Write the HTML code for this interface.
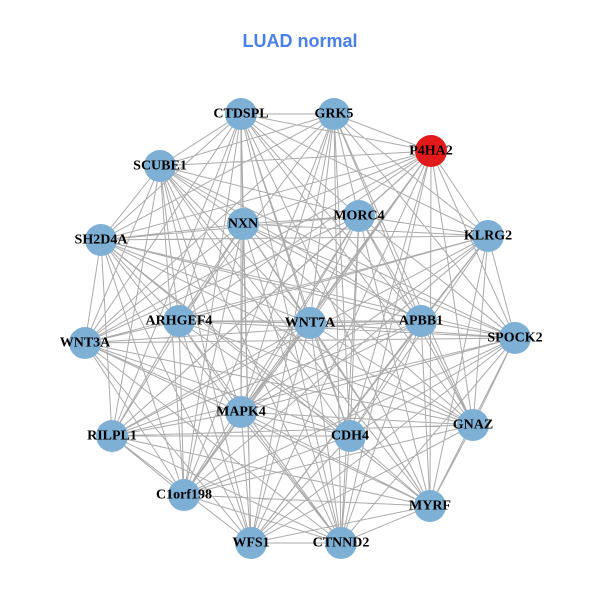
<!DOCTYPE html>
<html><head><meta charset="utf-8"><style>
html,body{margin:0;padding:0;background:#fff;width:600px;height:600px;overflow:hidden}
svg{display:block}
.l{font-family:"Liberation Serif",serif;font-weight:bold;font-size:14px;fill:#000;text-anchor:middle;dominant-baseline:central}
</style></head><body>
<svg id="s" width="600" height="600" viewBox="0 0 600 600">
<rect width="600" height="600" fill="#fff"/>
<text x="300" y="41" text-anchor="middle" dominant-baseline="central" font-family="Liberation Sans,sans-serif" font-weight="bold" font-size="18" fill="#4a7ee8">LUAD normal</text>
<g id="e" stroke="#aaaaaa" stroke-width="1" fill="none"></g>
<g id="n"></g>
<g>
<text class="l" x="241" y="114">CTDSPL</text>
<text class="l" x="334" y="114">GRK5</text>
<text class="l" x="431" y="151">P4HA2</text>
<text class="l" x="160" y="166">SCUBE1</text>
<text class="l" x="488" y="236">KLRG2</text>
<text class="l" x="243" y="224">NXN</text>
<text class="l" x="359" y="216">MORC4</text>
<text class="l" x="101" y="240">SH2D4A</text>
<text class="l" x="179" y="321">ARHGEF4</text>
<text class="l" x="310" y="323">WNT7A</text>
<text class="l" x="421" y="321">APBB1</text>
<text class="l" x="515" y="338">SPOCK2</text>
<text class="l" x="85" y="343">WNT3A</text>
<text class="l" x="241" y="412">MAPK4</text>
<text class="l" x="350" y="436">CDH4</text>
<text class="l" x="473" y="425">GNAZ</text>
<text class="l" x="112" y="436">RILPL1</text>
<text class="l" x="184" y="495">C1orf198</text>
<text class="l" x="430" y="506">MYRF</text>
<text class="l" x="251" y="543">WFS1</text>
<text class="l" x="341" y="543">CTNND2</text>
</g>
</svg>
<script>
var P=[[241,114],[334,114],[431,151],[160,166],[488,236],[243,224],[359,216],[101,240],[179,321],[310,323],[421,321],[515,338],[85,343],[241,412],[350,436],[473,425],[112,436],[184,495],[430,506],[251,543],[341,543]];
var ns="http://www.w3.org/2000/svg",e=document.getElementById("e"),n=document.getElementById("n"),d="";
for(var i=0;i<P.length;i++)for(var j=i+1;j<P.length;j++){if((i*7+j*3)%11==0)continue;d+="M"+P[i][0]+" "+P[i][1]+"L"+P[j][0]+" "+P[j][1];}
var p=document.createElementNS(ns,"path");p.setAttribute("d",d);e.appendChild(p);
P.forEach(function(q,k){var c=document.createElementNS(ns,"circle");c.setAttribute("cx",q[0]);c.setAttribute("cy",q[1]);c.setAttribute("r",16);c.setAttribute("fill",k==2?"#e31a1c":"#7eb0d5");n.appendChild(c);});
</script>
</body></html>
